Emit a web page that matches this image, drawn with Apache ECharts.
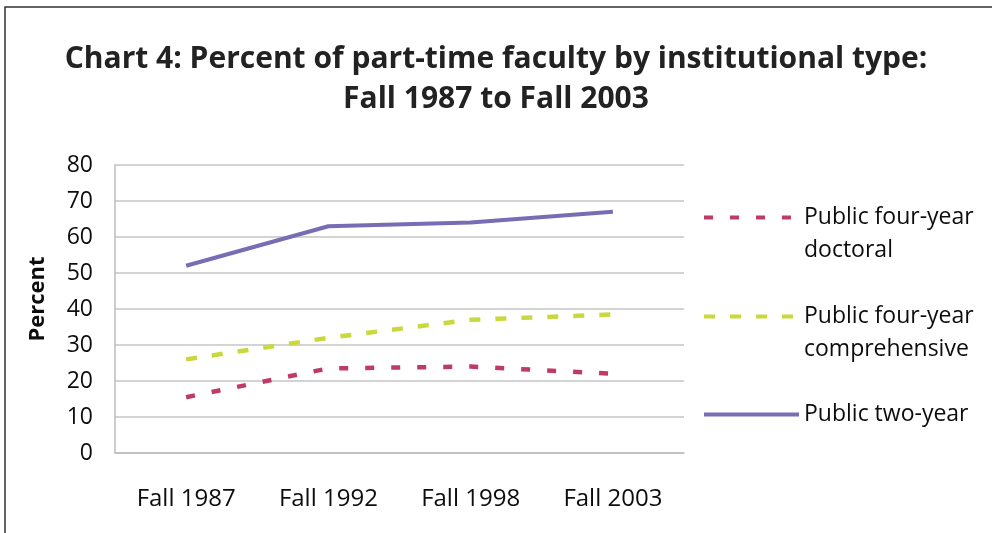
<!DOCTYPE html>
<html>
<head>
<meta charset="utf-8">
<script src="https://cdn.jsdelivr.net/npm/echarts@6/dist/echarts.min.js"></script>
<style>
  html, body { margin: 0; padding: 0; background: #fff; }
  #chart4 { width: 992px; height: 533px; }
</style>
</head>
<body>
<div id="chart4"></div>
<script>
var categories = ["Fall 1987", "Fall 1992", "Fall 1998", "Fall 2003"];
var doctoral = [15.5, 23.5, 24, 22];
var comprehensive = [26, 32, 37, 38.5];
var twoYear = [52, 63, 64, 67];
var seriesNames = ["Public four-year doctoral", "Public four-year comprehensive", "Public two-year"];
// a leading blank line keeps the icon level with the first text line
var legendLabels = ["\nPublic four-year\ndoctoral", "\nPublic four-year\ncomprehensive", "Public two-year"];

var FONT = "Open Sans";
var myChart = echarts.init(document.getElementById("chart4"));

// one legend block per series so each can sit where the original puts it
function legendFor(i, top) {
  return {
    data: [seriesNames[i]],
    left: 697,
    top: top,
    itemWidth: 95,
    itemHeight: 14,
    itemGap: 0,
    formatter: function () { return legendLabels[i]; },
    itemStyle: { color: "rgba(0,0,0,0)", borderWidth: 0 },
    lineStyle: { width: 4 },
    textStyle: {
      fontFamily: FONT,
      fontSize: 23,
      color: "#0d0d0d",
      lineHeight: 33
    },
    selectedMode: false
  };
}

myChart.setOption({
  backgroundColor: "#fff",
  animation: false,
  title: {
    text: "Chart 4: Percent of part-time faculty by institutional type:\nFall 1987 to Fall 2003",
    left: "center",
    top: 34,
    textStyle: {
      fontFamily: FONT,
      fontWeight: "bold",
      fontSize: 30,
      lineHeight: 40,
      color: "#222"
    }
  },
  graphic: [{
    type: "polyline",
    shape: { points: [[5, 533], [5, 7], [992, 7]] },
    style: { stroke: "#333", lineWidth: 1.5, fill: null }
  }],
  grid: { left: 115, right: 308, top: 165, bottom: 80 },
  legend: [
    legendFor(0, 163),
    legendFor(1, 262),
    legendFor(2, 393)
  ],
  xAxis: {
    type: "category",
    data: categories,
    boundaryGap: true,
    axisLine: { lineStyle: { color: "#bdbdbd", width: 1.5 } },
    axisTick: { show: false },
    axisLabel: { fontFamily: FONT, fontSize: 24, color: "#0d0d0d", margin: 34 }
  },
  yAxis: {
    type: "value",
    min: 0,
    max: 80,
    interval: 10,
    name: "Percent",
    nameLocation: "middle",
    nameGap: 66,
    nameTextStyle: { fontFamily: FONT, fontSize: 22, fontWeight: "bold", color: "#0d0d0d", padding: [0, 0, 0, 20] },
    axisLine: { show: true, lineStyle: { color: "#bdbdbd", width: 1.5 } },
    axisTick: { show: false },
    splitLine: { lineStyle: { color: "#c4c4c4", width: 1.5 } },
    axisLabel: { fontFamily: FONT, fontSize: 23, color: "#0d0d0d", margin: 22 }
  },
  series: [
    {
      name: seriesNames[0],
      type: "line",
      data: doctoral,
      symbol: "none",
      lineStyle: { color: "#be3a68", width: 4.5, type: [9, 17] },
      itemStyle: { color: "#be3a68" }
    },
    {
      name: seriesNames[1],
      type: "line",
      data: comprehensive,
      symbol: "none",
      lineStyle: { color: "#c9d83c", width: 4.5, type: [11, 15] },
      itemStyle: { color: "#c9d83c" }
    },
    {
      name: seriesNames[2],
      type: "line",
      data: twoYear,
      symbol: "none",
      lineStyle: { color: "#7a6bb5", width: 4 },
      itemStyle: { color: "#7a6bb5" }
    }
  ]
});
</script>
</body>
</html>
